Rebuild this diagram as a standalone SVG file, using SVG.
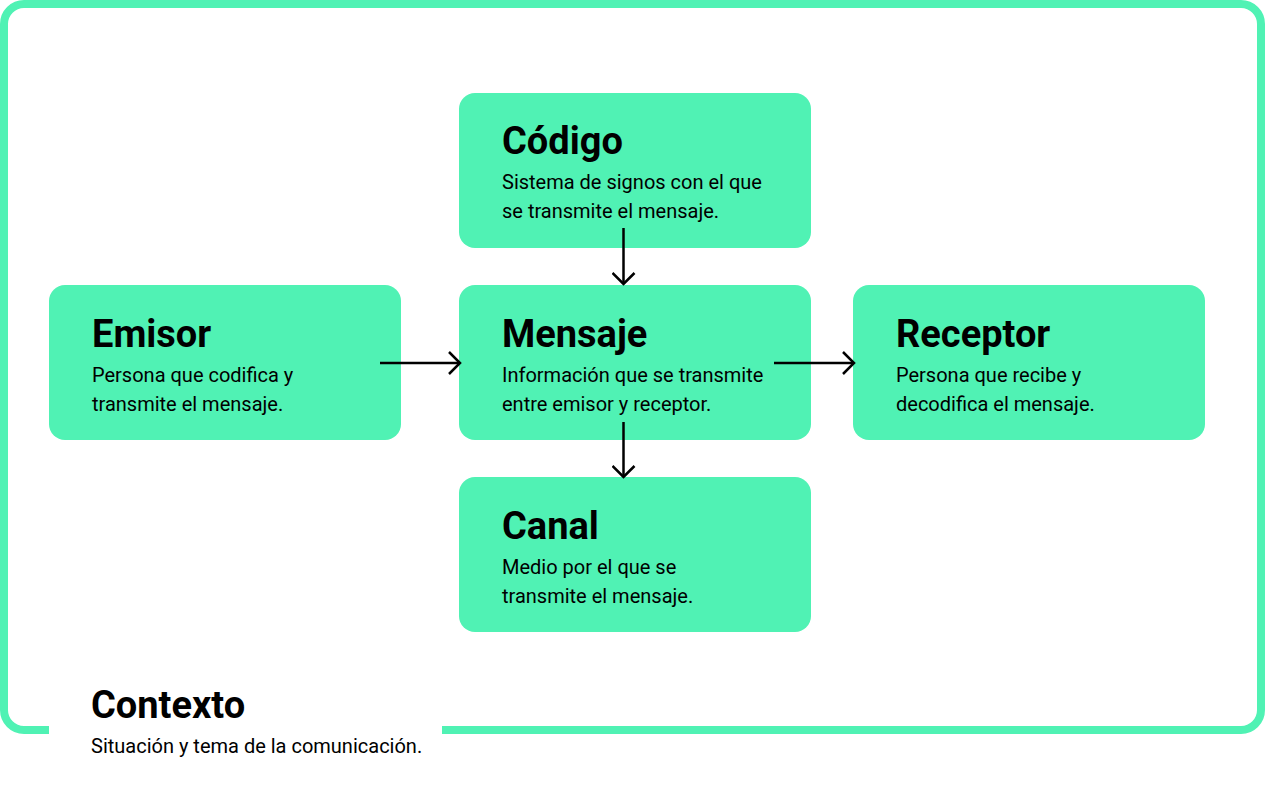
<svg xmlns="http://www.w3.org/2000/svg" width="1265" height="797" viewBox="0 0 1265 797">
<style>
.box{fill:#50F2B4}
.t{font-family:Roboto,"Liberation Sans",sans-serif;font-weight:700;font-size:38px;fill:#000}
.d{font-family:Roboto,"Liberation Sans",sans-serif;font-size:20px;fill:#000}
.c{fill:none;stroke:#000;stroke-width:2.5}
</style>
<defs>
<marker id="ah" viewBox="0 0 14 24" refX="12" refY="12" markerWidth="14" markerHeight="24" markerUnits="userSpaceOnUse" orient="auto">
<path d="M1,1 L12,12 L1,23" fill="none" stroke="#000" stroke-width="2.5"/>
</marker>
</defs>
<rect width="1265" height="797" fill="#fff"/>
<path d="M49,730 H24 A20,20 0 0 1 4,710 V24 A20,20 0 0 1 24,4 H1241 A20,20 0 0 1 1261,24 V710 A20,20 0 0 1 1241,730 H442" fill="none" stroke="#50F2B4" stroke-width="8"/>
<g id="codigo"><rect class="box" x="459" y="93" width="352" height="155" rx="16"/>
<text class="t" x="502" y="154">Código</text>
<text class="d" x="502" y="189">Sistema de signos con el que</text>
<text class="d" x="502" y="218">se transmite el mensaje.</text></g>
<g id="emisor"><rect class="box" x="49" y="285" width="352" height="155" rx="16"/>
<text class="t" x="92" y="347">Emisor</text>
<text class="d" x="92" y="382">Persona que codifica y</text>
<text class="d" x="92" y="411">transmite el mensaje.</text></g>
<g id="mensaje"><rect class="box" x="459" y="285" width="352" height="155" rx="16"/>
<text class="t" x="502" y="347">Mensaje</text>
<text class="d" x="502" y="382">Información que se transmite</text>
<text class="d" x="502" y="411">entre emisor y receptor.</text></g>
<g id="receptor"><rect class="box" x="853" y="285" width="352" height="155" rx="16"/>
<text class="t" x="896" y="347">Receptor</text>
<text class="d" x="896" y="382">Persona que recibe y</text>
<text class="d" x="896" y="411">decodifica el mensaje.</text></g>
<g id="canal"><rect class="box" x="459" y="477" width="352" height="155" rx="16"/>
<text class="t" x="502" y="539">Canal</text>
<text class="d" x="502" y="574">Medio por el que se</text>
<text class="d" x="502" y="603">transmite el mensaje.</text></g>
<g id="contexto">
<text class="t" x="91" y="718">Contexto</text>
<text class="d" x="91" y="753">Situación y tema de la comunicación.</text></g>
<g id="connectors">
<line class="c" x1="623.5" y1="228" x2="623.5" y2="284" marker-end="url(#ah)"/>
<line class="c" x1="380" y1="363" x2="460" y2="363" marker-end="url(#ah)"/>
<line class="c" x1="774" y1="363" x2="854" y2="363" marker-end="url(#ah)"/>
<line class="c" x1="623.5" y1="422" x2="623.5" y2="477" marker-end="url(#ah)"/>
</g>
</svg>
